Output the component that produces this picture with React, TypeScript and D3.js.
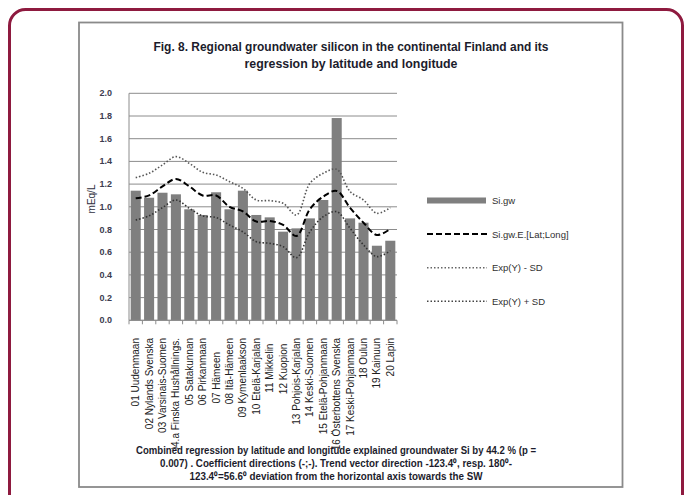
import React from "react";
import * as d3 from "d3";

const categories = [
  "01 Uudenmaan",
  "02 Nylands Svenska",
  "03 Varsinais-Suomen",
  "04.a Finska Hushållnings.",
  "05 Satakunnan",
  "06 Pirkanmaan",
  "07 Hämeen\u00a0\u00a0\u00a0\u00a0\u00a0",
  "08 Itä-Hämeen",
  "09 Kymenlaakson",
  "10 Etelä-Karjalan",
  "11 Mikkelin\u00a0\u00a0",
  "12 Kuopion\u00a0\u00a0",
  "13 Pohjois-Karjalan",
  "14 Keski-Suomen",
  "15 Etelä-Pohjanmaan",
  "16 Österbottens Svenska",
  "17 Keski-Pohjanmaan",
  "18 Oulun",
  "19 Kainuun",
  "20 Lapin",
];

const siGw = [1.142, 1.08, 1.124, 1.11, 0.978, 0.928, 1.128, 0.978, 1.142, 0.928, 0.907, 0.781, 0.81, 0.898, 1.06, 1.782, 0.898, 0.86, 0.657, 0.701];
const siGwExpected = [1.075, 1.1, 1.18, 1.245, 1.18, 1.1, 1.1, 1.0, 0.96, 0.87, 0.875, 0.84, 0.743, 0.98, 1.09, 1.14, 0.99, 0.86, 0.752, 0.805];
const expMinusSd = [0.884, 0.92, 0.993, 1.06, 0.987, 0.92, 0.905, 0.84, 0.78, 0.693, 0.678, 0.649, 0.552, 0.78, 0.913, 0.957, 0.81, 0.664, 0.561, 0.614];
const expPlusSd = [1.257, 1.295, 1.369, 1.442, 1.383, 1.304, 1.28, 1.222, 1.163, 1.06, 1.054, 1.031, 0.928, 1.207, 1.295, 1.33, 1.134, 1.06, 0.943, 0.993];

const yTicks = [0, 0.2, 0.4, 0.6, 0.8, 1.0, 1.2, 1.4, 1.6, 1.8, 2.0];

const titleLines = [
  "Fig. 8. Regional groundwater silicon in the continental Finland and its",
  "regression by latitude and  longitude",
];
const captionLines = [
  "Combined regression by latitude and  longitude explained groundwater Si by 44.2 % (p =",
  "0.007) . Coefficient directions  (-;-). Trend vector direction  -123.4⁰, resp. 180⁰-",
  "123.4⁰=56.6⁰ deviation from the horizontal axis  towards  the SW",
];

const legendItems = [
  { label: "Si.gw", kind: "bar" },
  { label: "Si.gw.E.[Lat;Long]", kind: "dash" },
  { label: "Exp(Y) - SD", kind: "dotLight" },
  { label: "Exp(Y) + SD", kind: "dot" },
];

export default function App() {
  const W = 687;
  const H = 495;
  const left = 129;
  const right = 397;
  const top = 93.3;
  const bottom = 320.3;

  const x = d3.scaleBand<string>().domain(categories).range([left, right]).paddingInner(0.25).paddingOuter(0.125);
  const y = d3.scaleLinear().domain([0, 2]).range([bottom, top]);
  const step = x.step();
  const cx = (i: number) => (x(categories[i]) as number) + x.bandwidth() / 2;

  const line = d3
    .line<number>()
    .x((_, i) => cx(i))
    .y((d) => y(d))
    .curve(d3.curveCatmullRom.alpha(0.5));

  const font = "'Liberation Sans', Arial, sans-serif";
  const titleWidths = [395, 213];
  const captionWidths = [400, 352, 293];

  const boundaries = d3.range(categories.length + 1).map((i) => left + i * step);

  return (
    <svg width={W} height={H} style={{ display: "block", position: "absolute", left: 0, top: 0 }}>
      <rect x={0} y={0} width={W} height={H} fill="#ffffff" />
      <defs>
        <clipPath id="labelClip">
          <rect x={0} y={322} width={W} height={127} />
        </clipPath>
      </defs>
      {/* outer rounded frame */}
      <rect x={9.5} y={9.5} width={673} height={540} rx={16} ry={16} fill="none" stroke="#8e1a3f" strokeWidth={3} />
      {/* inner chart frame */}
      <rect x={79} y={22.5} width={543.5} height={464.5} fill="#ffffff" stroke="#8a8a8a" strokeWidth={1.8} />

      {/* title */}
      {titleLines.map((t, i) => (
        <text
          key={i}
          x={351}
          y={51 + i * 16.5}
          textAnchor="middle"
          fontFamily={font}
          fontWeight="bold"
          fontSize={12}
          fill="#1c1c2c"
          textLength={titleWidths[i]}
          lengthAdjust="spacingAndGlyphs"
        >
          {t}
        </text>
      ))}

      {/* gridlines */}
      {yTicks.map((t) => (
        <line key={t} x1={left} x2={right} y1={y(t)} y2={y(t)} stroke="#8c8c8c" strokeWidth={1} />
      ))}
      {/* y tick labels */}
      {yTicks.map((t) => (
        <text
          key={"l" + t}
          x={112}
          y={y(t) + 3}
          textAnchor="end"
          fontFamily={font}
          fontWeight="bold"
          fontSize={9}
          fill="#3c3c50"
        >
          {t.toFixed(1)}
        </text>
      ))}
      {/* y axis title */}
      <text
        transform={`translate(95,199) rotate(-90)`}
        textAnchor="middle"
        fontFamily={font}
        fontSize={10}
        fill="#303040"
      >
        mEq/L
      </text>

      {/* bars */}
      {siGw.map((v, i) => (
        <rect key={i} x={x(categories[i])} y={y(v)} width={x.bandwidth()} height={bottom - y(v)} fill="#7f7f7f" />
      ))}

      {/* axes */}
      <line x1={left} x2={left} y1={top} y2={bottom} stroke="#8c8c8c" strokeWidth={1} />
      <line x1={left} x2={right} y1={bottom} y2={bottom} stroke="#8c8c8c" strokeWidth={1} />
      {boundaries.map((b, i) => (
        <line key={"tk" + i} x1={b} x2={b} y1={bottom} y2={bottom + 4} stroke="#8c8c8c" strokeWidth={1} />
      ))}

      {/* lines */}
      <path d={line(expPlusSd) || ""} fill="none" stroke="#555555" strokeWidth={1.6} strokeDasharray="1.5,2" />
      <path d={line(expMinusSd) || ""} fill="none" stroke="#333333" strokeWidth={1.6} strokeDasharray="1.5,2" />
      <path d={line(siGwExpected) || ""} fill="none" stroke="#000000" strokeWidth={2} strokeDasharray="6,3" />

      {/* category labels */}
      <g clipPath="url(#labelClip)">
        {categories.map((c, i) => (
          <text
            key={c}
            transform={`translate(${cx(i) + 3.5},338) rotate(-90)`}
            textAnchor="end"
            fontFamily={font}
            fontSize={10}
            fill="#202020"
            style={{ whiteSpace: "pre" }}
          >
            {c}
          </text>
        ))}
      </g>

      {/* legend */}
      {legendItems.map((it, i) => {
        const ly = 200.5 + i * 33.6;
        return (
          <g key={it.label}>
            {it.kind === "bar" && <rect x={427} y={ly - 3} width={59} height={6} fill="#7f7f7f" />}
            {it.kind === "dash" && (
              <line x1={427} x2={487} y1={ly} y2={ly} stroke="#000" strokeWidth={2} strokeDasharray="6,3" />
            )}
            {it.kind === "dotLight" && (
              <line x1={427} x2={487} y1={ly} y2={ly} stroke="#666" strokeWidth={1.5} strokeDasharray="1.5,2" />
            )}
            {it.kind === "dot" && (
              <line x1={427} x2={487} y1={ly} y2={ly} stroke="#444" strokeWidth={1.5} strokeDasharray="1.5,2" />
            )}
            <text x={492} y={ly + 3.5} fontFamily={font} fontSize={9.5} fill="#303030">
              {it.label}
            </text>
          </g>
        );
      })}

      {/* caption */}
      {captionLines.map((t, i) => (
        <text
          key={"c" + i}
          x={336}
          y={454 + i * 12.8}
          textAnchor="middle"
          fontFamily={font}
          fontWeight="bold"
          fontSize={10}
          fill="#1c1c2c"
          textLength={captionWidths[i]}
          lengthAdjust="spacingAndGlyphs"
        >
          {t}
        </text>
      ))}
    </svg>
  );
}
